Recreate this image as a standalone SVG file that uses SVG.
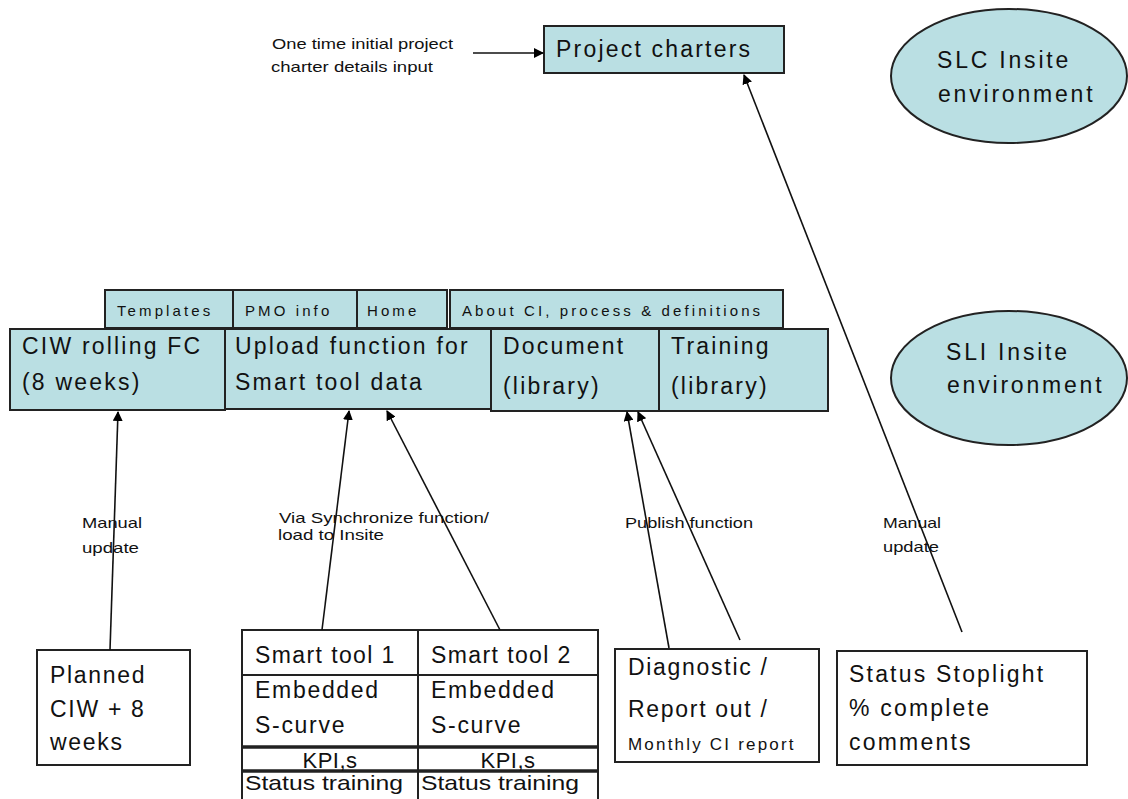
<svg xmlns="http://www.w3.org/2000/svg" width="1128" height="799" viewBox="0 0 1128 799">
<defs>
<marker id="ah" viewBox="0 0 10 10" refX="9" refY="5" markerWidth="10" markerHeight="10" markerUnits="userSpaceOnUse" orient="auto">
<path d="M0,0 L10,5 L0,10 z" fill="#000"/>
</marker>
<style>
.box{fill:#BADFE3;stroke:#222;stroke-width:2}
.wbox{fill:#fff;stroke:#222;stroke-width:2}
.big{font-family:"Liberation Sans",Arial,sans-serif;font-size:23px;letter-spacing:2.2px;fill:#111}
.bot{font-family:"Liberation Sans",Arial,sans-serif;font-size:23px;letter-spacing:1.7px;fill:#111}
.tab{font-family:"Liberation Sans",Arial,sans-serif;font-size:15px;letter-spacing:3.1px;fill:#111}
.lbl{font-family:"Liberation Sans",Arial,sans-serif;font-size:15px;fill:#111}
.con{stroke:#111;stroke-width:1.6;fill:none}
</style>
</defs>
<rect width="1128" height="799" fill="#fff"/>

<g id="project-charters">
<rect class="box" x="544" y="26" width="240" height="47"/>
<text class="big" x="556" y="57">Project charters</text>
</g>

<g id="charter-input-label">
<text class="lbl" x="272" y="49" textLength="181" lengthAdjust="spacingAndGlyphs">One time initial project</text>
<text class="lbl" x="271" y="72" textLength="162" lengthAdjust="spacingAndGlyphs">charter details input</text>
</g>

<g id="slc-env">
<ellipse class="box" cx="1009" cy="76" rx="118" ry="67"/>
<text class="big" x="937" y="68" style="letter-spacing:2.8px">SLC Insite</text>
<text class="big" x="938" y="102" style="letter-spacing:2.8px">environment</text>
</g>

<g id="sli-env">
<ellipse class="box" cx="1009" cy="378" rx="118" ry="67"/>
<text class="big" x="946" y="360" style="letter-spacing:2.8px">SLI Insite</text>
<text class="big" x="947" y="393" style="letter-spacing:2.8px">environment</text>
</g>

<g id="tab-templates">
<rect class="box" x="105" y="290" width="128" height="38"/>
<text class="tab" x="117" y="316">Templates</text>
</g>
<g id="tab-pmo">
<rect class="box" x="233" y="290" width="124" height="38"/>
<text class="tab" x="245" y="316">PMO info</text>
</g>
<g id="tab-home">
<rect class="box" x="357" y="290" width="90" height="38"/>
<text class="tab" x="367" y="316">Home</text>
</g>
<g id="tab-about">
<rect class="box" x="450" y="290" width="333" height="38"/>
<text class="tab" x="462" y="316">About CI, process &amp; definitions</text>
</g>

<g id="ciw-rolling">
<rect class="box" x="10" y="329" width="215" height="81"/>
<text class="big" x="22" y="354">CIW rolling FC</text>
<text class="big" x="22" y="390">(8 weeks)</text>
</g>
<g id="upload-function">
<rect class="box" x="225" y="329" width="266" height="80"/>
<text class="big" x="235" y="354">Upload function for</text>
<text class="big" x="235" y="390">Smart tool data</text>
</g>
<g id="document-library">
<rect class="box" x="491" y="329" width="168" height="82"/>
<text class="big" x="503" y="354">Document</text>
<text class="big" x="503" y="394">(library)</text>
</g>
<g id="training-library">
<rect class="box" x="659" y="329" width="169" height="82"/>
<text class="big" x="671" y="354">Training</text>
<text class="big" x="671" y="394">(library)</text>
</g>

<g id="planned-ciw">
<rect class="wbox" x="37" y="650" width="153" height="115"/>
<text class="bot" x="50" y="683">Planned</text>
<text class="bot" x="50" y="717">CIW + 8</text>
<text class="bot" x="50" y="750">weeks</text>
</g>

<g id="smart-tools">
<rect class="wbox" x="242" y="630" width="356" height="175"/>
<line x1="418" y1="630" x2="418" y2="799" stroke="#222" stroke-width="2"/>
<line x1="242" y1="675" x2="598" y2="675" stroke="#222" stroke-width="2"/>
<line x1="242" y1="747" x2="598" y2="747" stroke="#222" stroke-width="3.5"/>
<line x1="242" y1="771" x2="598" y2="771" stroke="#222" stroke-width="3.5"/>
<text class="bot" x="255" y="663" style="letter-spacing:1.4px">Smart tool 1</text>
<text class="bot" x="431" y="663" style="letter-spacing:1.4px">Smart tool 2</text>
<text class="bot" x="255" y="698">Embedded</text>
<text class="bot" x="431" y="698">Embedded</text>
<text class="bot" x="255" y="733">S-curve</text>
<text class="bot" x="431" y="733">S-curve</text>
<text class="bot" x="330" y="768" text-anchor="middle" style="font-size:22px;letter-spacing:0.5px">KPI,s</text>
<text class="bot" x="508" y="768" text-anchor="middle" style="font-size:22px;letter-spacing:0.5px">KPI,s</text>
<text class="bot" x="245" y="790" style="font-size:21px;letter-spacing:0" textLength="158" lengthAdjust="spacingAndGlyphs">Status training</text>
<text class="bot" x="421" y="790" style="font-size:21px;letter-spacing:0" textLength="158" lengthAdjust="spacingAndGlyphs">Status training</text>
</g>

<g id="diagnostic">
<rect class="wbox" x="615" y="649" width="204" height="113"/>
<text class="bot" x="628" y="675">Diagnostic /</text>
<text class="bot" x="628" y="717">Report out /</text>
<text class="bot" x="628" y="750" style="font-size:17px;letter-spacing:2.2px">Monthly CI report</text>
</g>

<g id="status-stoplight">
<rect class="wbox" x="837" y="651" width="250" height="114"/>
<text class="bot" x="849" y="682" style="letter-spacing:2.2px">Status Stoplight</text>
<text class="bot" x="849" y="716" style="letter-spacing:2.2px">% complete</text>
<text class="bot" x="849" y="750" style="letter-spacing:2.2px">comments</text>
</g>

<g id="connectors">
<line class="con" x1="473" y1="53" x2="543" y2="53" marker-end="url(#ah)"/>
<line class="con" x1="962" y1="632" x2="744" y2="75" marker-end="url(#ah)"/>
<line class="con" x1="110" y1="650" x2="118" y2="412" marker-end="url(#ah)"/>
<line class="con" x1="322" y1="630" x2="349" y2="411" marker-end="url(#ah)"/>
<line class="con" x1="500" y1="630" x2="387" y2="411" marker-end="url(#ah)"/>
<line class="con" x1="669" y1="648" x2="627" y2="412" marker-end="url(#ah)"/>
<line class="con" x1="740" y1="640" x2="638" y2="412" marker-end="url(#ah)"/>
</g>

<g id="connector-labels">
<text class="lbl" x="82" y="528" textLength="60" lengthAdjust="spacingAndGlyphs">Manual</text>
<text class="lbl" x="82" y="553" textLength="57" lengthAdjust="spacingAndGlyphs">update</text>
<text class="lbl" x="279" y="523" textLength="210" lengthAdjust="spacingAndGlyphs">Via Synchronize function/</text>
<text class="lbl" x="278" y="540" textLength="106" lengthAdjust="spacingAndGlyphs">load to Insite</text>
<text class="lbl" x="625" y="528" textLength="128" lengthAdjust="spacingAndGlyphs">Publish function</text>
<text class="lbl" x="883" y="528" textLength="58" lengthAdjust="spacingAndGlyphs">Manual</text>
<text class="lbl" x="883" y="552" textLength="56" lengthAdjust="spacingAndGlyphs">update</text>
</g>
</svg>
